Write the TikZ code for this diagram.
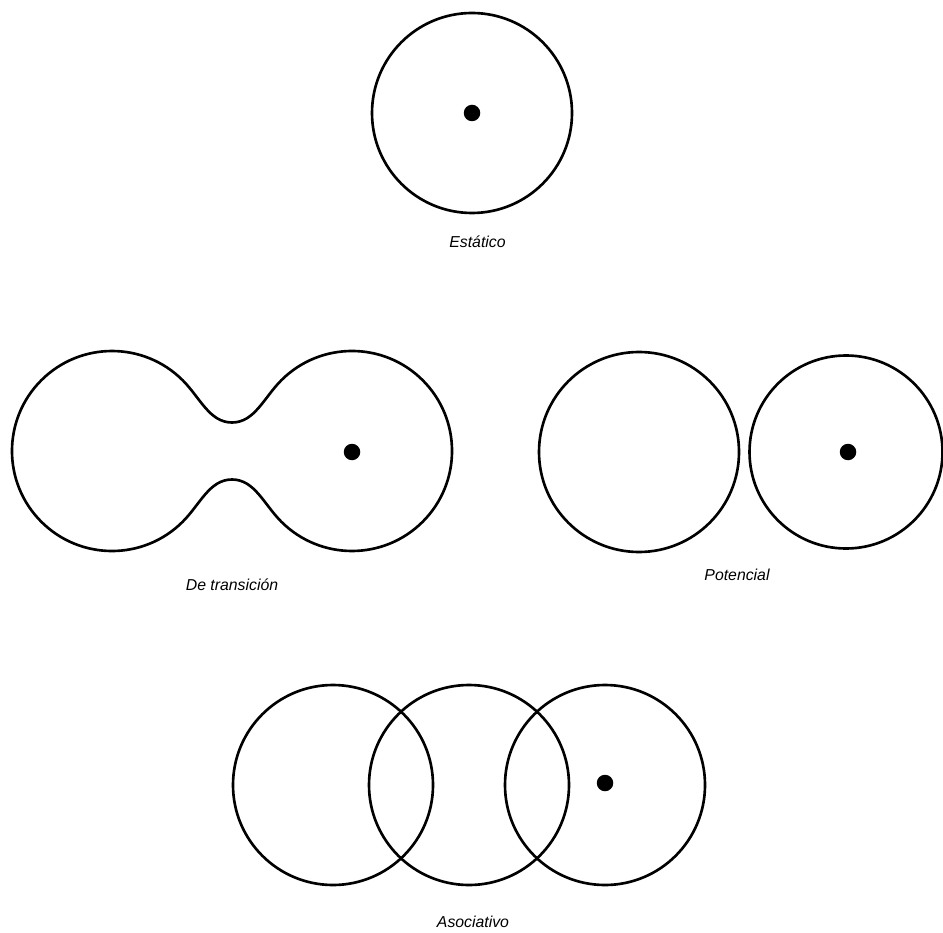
\documentclass[tikz,border=0pt]{standalone}
\usepackage{fontspec}
\setmainfont{Liberation Sans}
\usepackage{tikz}
\usetikzlibrary{positioning}

\begin{document}
\begin{tikzpicture}[
  every node/.style={font=\small\itshape},
  ring/.style={draw,line width=1.5pt},
  dot/.style={circle,fill=black,inner sep=0pt,minimum size=0.33cm},
  lbl/.style={inner sep=1pt}
]
  \useasboundingbox (0,0) rectangle (18.86,18.64);

  % static
  \draw[ring] (9.44,16.38) circle (2);
  \node[dot] (sdot) at (9.44,16.38) {};
  \node[lbl] (stat) at (9.55,13.80) {Estático};

  % transition (two lobes joined by a neck)
  \coordinate (ntop) at (4.64,10.19);
  \coordinate (nbot) at (4.64,9.05);
  \draw[ring] (3.654,11.034)
    arc[start angle=45,end angle=315,radius=2]
    .. controls +(0.35,0.35) and +(-0.45,0) .. (nbot)
    .. controls +(0.45,0) and +(-0.35,0.35) .. (5.626,8.206)
    arc[start angle=225,end angle=495,radius=2]
    .. controls +(-0.35,-0.35) and +(0.45,0) .. (ntop)
    .. controls +(-0.45,0) and +(0.35,-0.35) .. (3.654,11.034) -- cycle;
  \node[dot] (tdot) at (7.04,9.60) {};
  \node[lbl] (trans) at (4.64,6.94) {De transición};

  % potential
  \draw[ring] (12.78,9.60) circle (2);
  \draw[ring] (16.92,9.60) circle (1.93);
  \node[dot] (pdot) at (16.96,9.60) {};
  \node[lbl] (pot) at (14.74,7.14) {Potencial};

  % associative
  \draw[ring] (6.66,2.94) circle (2);
  \draw[ring] (9.38,2.94) circle (2);
  \draw[ring] (12.10,2.94) circle (2);
  \node[dot] (adot) at (12.10,2.98) {};
  \node[lbl] (assoc) at (9.46,0.20) {Asociativo};
\end{tikzpicture}
\end{document}
